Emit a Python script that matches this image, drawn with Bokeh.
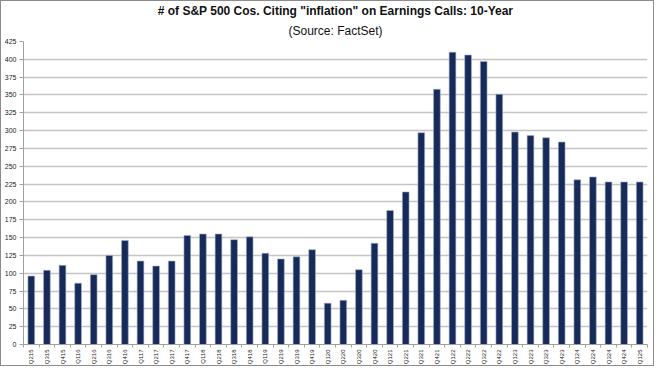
import math
import numpy as np
from bokeh.plotting import figure
from bokeh.models import Title, Range1d, FixedTicker, LinearAxis, ColumnDataSource
from bokeh.embed import file_html
from bokeh.resources import INLINE

quarters = ["Q215", "Q315", "Q415", "Q116", "Q216", "Q316", "Q416", "Q117", "Q217", "Q317",
            "Q417", "Q118", "Q218", "Q318", "Q418", "Q119", "Q219", "Q319", "Q419", "Q120",
            "Q220", "Q320", "Q420", "Q121", "Q221", "Q321", "Q421", "Q122", "Q222", "Q322",
            "Q422", "Q123", "Q223", "Q323", "Q423", "Q124", "Q224", "Q324", "Q424", "Q125"]
counts = [96, 104, 111, 86, 98, 125, 146, 117, 110, 117,
          153, 155, 155, 147, 151, 128, 120, 123, 133, 58,
          62, 105, 142, 188, 214, 297, 358, 410, 406, 397,
          351, 298, 293, 290, 284, 231, 235, 228, 228, 228]
y_ticks = list(range(0, 426, 25))

title_text = "# of S&P 500 Cos. Citing \"inflation\" on Earnings Calls: 10-Year"
subtitle_text = "(Source: FactSet)"

FONT = "Liberation Sans"
idx = [int(i) for i in np.arange(len(quarters))]
src = ColumnDataSource(dict(x=idx, top=counts, q=quarters))

p = figure(width=654, height=366, output_backend="svg", toolbar_location=None,
           x_range=Range1d(-0.5, len(quarters) - 0.5), y_range=Range1d(0, 425),
           min_border_left=20, min_border_right=8, min_border_top=0, min_border_bottom=0,
           x_axis_location=None)
p.title.visible = False
p.styles = {"border": "1px solid #8c8c8c"}

p.add_layout(Title(text=subtitle_text, align="center", text_font=FONT, text_font_size="12px",
                   text_font_style="normal", text_color="#111111", standoff=7), "above")
p.add_layout(Title(text=title_text, align="center", text_font=FONT, text_font_size="12px",
                   text_font_style="bold", text_color="#111111", standoff=1, offset=0), "above")

p.vbar(x="x", top="top", width=0.43, source=src, fill_color="#172a58",
       line_color="#9fb0d0", line_width=0.6)

p.outline_line_color = None
p.background_fill_color = "white"
p.border_fill_color = "white"

# y axis
ya = p.yaxis[0]
ya.ticker = FixedTicker(ticks=y_ticks)
ya.axis_line_color = "#a0a0a0"
ya.major_tick_line_color = "#a0a0a0"
ya.major_tick_out = 4
ya.major_tick_in = 0
ya.minor_tick_line_color = None
ya.major_label_text_font = FONT
ya.major_label_text_font_size = "7px"
ya.major_label_text_color = "#222222"
ya.major_label_standoff = 3

p.ygrid.ticker = FixedTicker(ticks=y_ticks)
p.ygrid.grid_line_color = "#c4c4c4"
p.ygrid.grid_line_width = 1.5
p.xgrid.grid_line_color = None

# x axis: labels at bar centres, tick marks between categories (minor ticks)
bounds = [i - 0.5 for i in range(len(quarters) + 1)]
xa = LinearAxis(ticker=FixedTicker(ticks=idx, minor_ticks=bounds))
xa.major_label_overrides = {i: q for i, q in zip(idx, quarters)}
xa.axis_line_color = "#a0a0a0"
xa.major_tick_line_color = None
xa.minor_tick_line_color = "#a0a0a0"
xa.minor_tick_out = 3
xa.minor_tick_in = 0
xa.major_tick_out = 3
xa.major_tick_in = 0
xa.major_label_orientation = math.pi / 2
xa.major_label_text_font = FONT
xa.major_label_text_font_size = "6px"
xa.major_label_text_color = "#222222"
xa.major_label_standoff = 2
p.add_layout(xa, "below")

open("out.html", "w").write(file_html(p, INLINE))
